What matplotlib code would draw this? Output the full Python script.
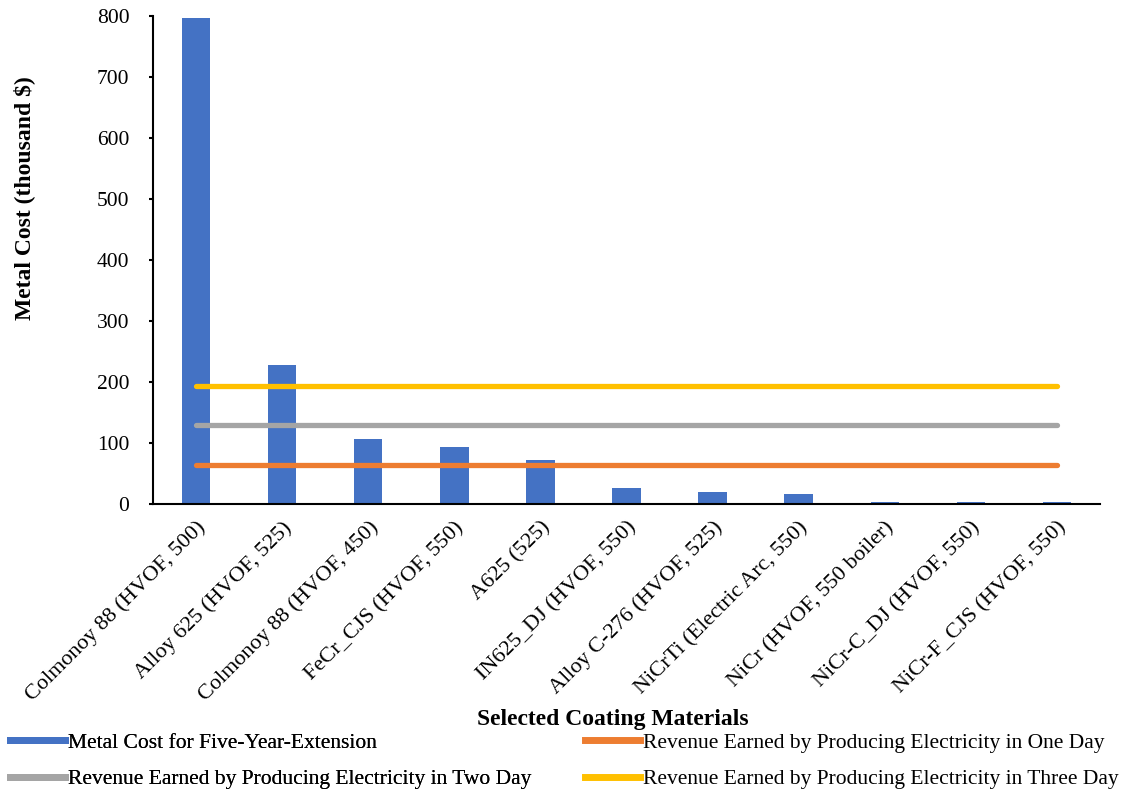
import matplotlib
matplotlib.use("Agg")
import matplotlib.pyplot as plt
from matplotlib.lines import Line2D

plt.rcParams['font.family'] = ['Liberation Serif', 'DejaVu Serif']

categories = ["Colmonoy 88 (HVOF, 500)", "Alloy 625 (HVOF, 525)", "Colmonoy 88 (HVOF, 450)",
              "FeCr_CJS (HVOF, 550)", "A625 (525)", "IN625_DJ (HVOF, 550)",
              "Alloy C-276 (HVOF, 525)", "NiCrTi (Electric Arc, 550)", "NiCr (HVOF, 550 boiler)",
              "NiCr-C_DJ (HVOF, 550)", "NiCr-F_CJS (HVOF, 550)"]
metal_cost = [797, 228, 106, 93, 72, 26, 20, 16, 3, 3, 3]
rev_one_day = 64.5
rev_two_day = 129
rev_three_day = 193.5

series_names = ["Metal Cost for Five-Year-Extension",
                "Revenue Earned by Producing Electricity in One Day",
                "Revenue Earned by Producing Electricity in Two Day",
                "Revenue Earned by Producing Electricity in Three Day"]
colors = ["#4472C4", "#ED7D31", "#A5A5A5", "#FFC000"]

fig = plt.figure(figsize=(11.21, 7.92), dpi=100)
ax = fig.add_axes([153/1121, 1-504/792, (1100-153)/1121, (504-16)/792])

x = list(range(len(categories)))
ax.bar(x, metal_cost, width=0.33, color=colors[0], zorder=2)
for val, c in zip([rev_one_day, rev_two_day, rev_three_day], colors[1:]):
    ax.plot([x[0], x[-1]], [val, val], color=c, lw=3.8, solid_capstyle='round', zorder=3)

ax.set_xlim(-0.5, len(categories) - 0.5)
ax.set_ylim(0, 800)
ax.set_yticks(range(0, 801, 100))
ax.set_xticks(x)
ax.set_xticklabels(categories, rotation=45, ha='right', rotation_mode='anchor', fontsize=16)
ax.tick_params(axis='y', labelsize=15.5, length=3, width=1.5, direction='out', pad=14)
ax.tick_params(axis='x', length=0, pad=10)
for s in ['top', 'right']:
    ax.spines[s].set_visible(False)
ax.spines['left'].set_linewidth(1.5)
ax.spines['bottom'].set_linewidth(1.5)

ax.set_ylabel("Metal Cost (thousand $)", fontsize=17, fontweight='bold')
ax.yaxis.set_label_coords(-0.125, 0.627)
fig.text(613/1121, 1-719/792, "Selected Coating Materials", fontsize=17, fontweight='bold',
         ha='center', va='center')

handles = [Line2D([], [], color=c, lw=5) for c in colors]
leg1 = fig.legend([handles[0], handles[2]], [series_names[0], series_names[2]],
                  loc='center left', bbox_to_anchor=(10/1121, 1-761/792),
                  frameon=False, fontsize=15.5, handlelength=2.55, handletextpad=0.15,
                  labelspacing=0.75, borderaxespad=0, borderpad=0)
fig.add_artist(leg1)
leg2 = fig.legend([handles[1], handles[3]], [series_names[1], series_names[3]],
                  loc='center left', bbox_to_anchor=(585/1121, 1-761/792),
                  frameon=False, fontsize=15.5, handlelength=2.55, handletextpad=0.15,
                  labelspacing=0.75, borderaxespad=0, borderpad=0)

fig.savefig("out.png", dpi=100)
